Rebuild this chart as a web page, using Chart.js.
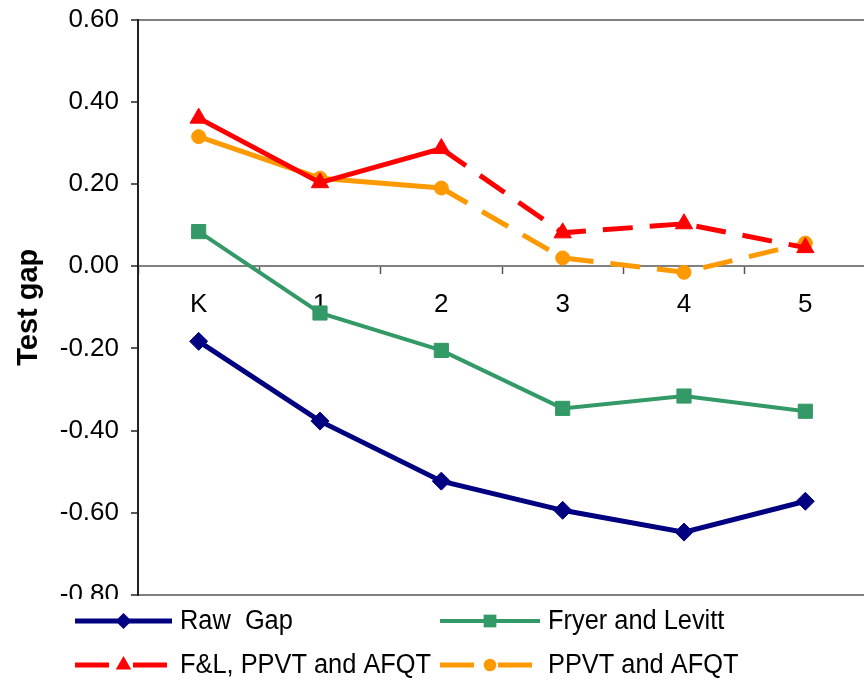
<!DOCTYPE html>
<html>
<head>
<meta charset="utf-8">
<script src="https://cdn.jsdelivr.net/npm/chart.js@4"></script>
<style>
  html, body { margin: 0; padding: 0; background: #fff; overflow: hidden; }
  #wrap { width: 864px; height: 683px; overflow: hidden; }
</style>
</head>
<body>
<div id="wrap"><canvas id="gapChart" width="877" height="683"></canvas></div>
<script>
// grades and test gap estimates
const grades = ['K', '1', '2', '3', '4', '5'];
const rawGap = [-0.183, -0.377, -0.523, -0.594, -0.647, -0.572];
const fryerLevitt = [0.084, -0.114, -0.205, -0.346, -0.316, -0.353];
const flPpvtAfqt = [0.360, 0.203, 0.286, 0.081, 0.103, 0.045];
const ppvtAfqt = [0.315, 0.214, 0.190, 0.020, -0.015, 0.056];
const yTicks = [-0.8, 0.6, 0.2];   // min, max, step

const FONT = 'Liberation Sans, Arial, sans-serif';

// dashed from grade 2 onward
const dashFrom2 = ctx => ctx.p0DataIndex >= 2 ? [30, 17] : undefined;

const series = [
    { label: 'Raw  Gap', data: rawGap, color: '#000080', style: 'rectRot', radius: 9, width: 5, dashed: false },
    { label: 'Fryer and Levitt', data: fryerLevitt, color: '#339966', style: 'rect', radius: 10, width: 4, dashed: false },
    { label: 'F&L, PPVT and AFQT', data: flPpvtAfqt, color: '#FF0000', style: 'triangle', radius: 10, width: 5, dashed: true },
    { label: 'PPVT and AFQT', data: ppvtAfqt, color: '#FF9900', style: 'circle', radius: 7, width: 5, dashed: true }
];

function drawMarker(ctx, style, r, x, y, color) {
    ctx.save();
    ctx.fillStyle = color;
    ctx.beginPath();
    if (style === 'rectRot') {
        ctx.moveTo(x, y - r); ctx.lineTo(x + r, y); ctx.lineTo(x, y + r); ctx.lineTo(x - r, y);
    } else if (style === 'rect') {
        const s = r * Math.SQRT1_2;
        ctx.rect(x - s, y - s, 2 * s, 2 * s);
    } else if (style === 'triangle') {
        ctx.moveTo(x, y - r);
        ctx.lineTo(x + r * 0.866, y + r * 0.5);
        ctx.lineTo(x - r * 0.866, y + r * 0.5);
    } else {
        ctx.arc(x, y, r, 0, Math.PI * 2);
    }
    ctx.closePath();
    ctx.fill();
    ctx.restore();
}

// two-column legend under the plot, on a white box
const gridLegend = {
    id: 'gridLegend',
    afterDraw(chart) {
        const ctx = chart.ctx;
        ctx.save();
        ctx.fillStyle = '#fff';
        ctx.fillRect(40, 599, 840, 84);
        const cols = [{ x0: 75, x1: 172, tx: 180 }, { x0: 440, x1: 540, tx: 548 }];
        const rows = [621, 665];
        series.forEach((s, i) => {
            const c = cols[i % 2], y = rows[Math.floor(i / 2)];
            ctx.strokeStyle = s.color;
            ctx.lineWidth = s.width;
            ctx.setLineDash(s.dashed ? [34, 24] : []);
            ctx.lineCap = 'butt';
            ctx.beginPath();
            ctx.moveTo(c.x0, y);
            ctx.lineTo(c.x1, y);
            ctx.stroke();
            ctx.setLineDash([]);
            drawMarker(ctx, s.style, s.radius * 0.9, (c.x0 + c.x1) / 2, y, s.color);
            // slightly condensed label text
            ctx.save();
            ctx.translate(c.tx, y + 1);
            ctx.scale(0.94, 1);
            ctx.fillStyle = '#000';
            ctx.font = '27px ' + FONT;
            ctx.textBaseline = 'middle';
            ctx.fillText(s.label, 0, 0);
            ctx.restore();
        });
        ctx.restore();
    }
};

new Chart(document.getElementById('gapChart'), {
    type: 'line',
    data: {
        labels: grades,
        datasets: series.map(s => ({
            label: s.label,
            data: s.data,
            borderColor: s.color,
            backgroundColor: s.color,
            borderWidth: s.width,
            pointStyle: s.style,
            pointRadius: s.radius,
            pointBorderWidth: 1,
            pointHoverRadius: s.radius,
            tension: 0,
            segment: s.dashed ? { borderDash: dashFrom2 } : {}
        }))
    },
    options: {
        responsive: false,
        animation: false,
        layout: { padding: { top: 19.5, left: 0, right: 0, bottom: 88 } },
        plugins: {
            legend: { display: false },
            tooltip: { enabled: false }
        },
        scales: {
            x: {
                type: 'category',
                position: { y: 0 },
                offset: true,
                afterFit(scale) { scale.paddingLeft = 0; scale.paddingRight = 0; },
                border: { color: '#808080', width: 2 },
                grid: {
                    offset: true,
                    drawOnChartArea: false,
                    drawTicks: true,
                    tickLength: 7,
                    tickColor: '#555',
                    tickWidth: 1.5
                },
                ticks: {
                    color: '#000',
                    padding: 16,
                    font: { family: FONT, size: 26 }
                }
            },
            y: {
                min: yTicks[0],
                max: yTicks[1],
                afterFit(scale) {
                    scale.width = 138;
                    scale.paddingTop = 0;
                    scale.paddingBottom = 0;
                },
                border: { color: '#222', width: 2 },
                grid: {
                    color: ctx => (ctx.index === 0 || ctx.index === 7) ? '#808080' : 'rgba(0,0,0,0)',
                    lineWidth: 2,
                    drawTicks: true,
                    tickLength: 7,
                    tickColor: '#222',
                    tickWidth: 1.5
                },
                ticks: {
                    stepSize: yTicks[2],
                    color: '#000',
                    padding: 12,
                    font: { family: FONT, size: 26 },
                    callback: v => (Math.abs(v) < 1e-9 ? 0 : v).toFixed(2)
                },
                title: {
                    display: true,
                    text: 'Test gap',
                    color: '#000',
                    padding: { top: 12, bottom: 0 },
                    font: { family: FONT, size: 29, weight: 'bold' }
                }
            }
        }
    },
    plugins: [gridLegend]
});
</script>
</body>
</html>
